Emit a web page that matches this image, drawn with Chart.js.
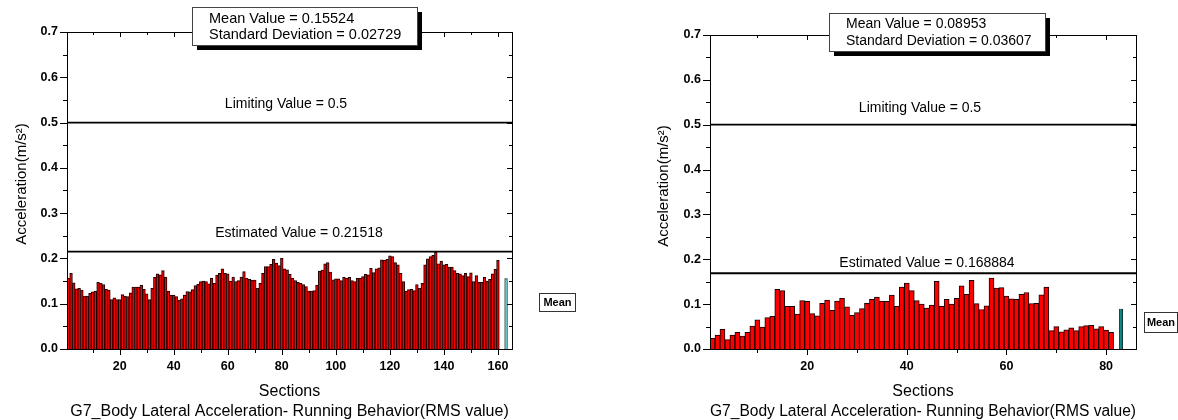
<!DOCTYPE html>
<html>
<head>
<meta charset="utf-8">
<script src="https://cdn.jsdelivr.net/npm/chart.js@4.4.0/dist/chart.umd.min.js"></script>
<style>
  html, body { margin: 0; padding: 0; background: #fff; }
  .wrap { position: absolute; top: 0; width: 589px; height: 420px; }
  #w1 { left: 0; }
  #w2 { left: 589px; }
</style>
</head>
<body>
<div class="wrap" id="w1"><canvas id="c1"></canvas></div>
<div class="wrap" id="w2"><canvas id="c2"></canvas></div>
<script>
// ---- data ----
const leftValues = [
  0.156,0.167,0.146,0.133,0.134,0.130,0.117,0.117,0.123,0.126,
  0.128,0.147,0.145,0.142,0.132,0.130,0.109,0.113,0.109,0.109,
  0.120,0.117,0.116,0.124,0.137,0.137,0.137,0.141,0.132,0.122,
  0.109,0.134,0.158,0.166,0.164,0.173,0.159,0.128,0.119,0.119,
  0.116,0.108,0.111,0.119,0.127,0.126,0.131,0.140,0.143,0.149,
  0.150,0.149,0.144,0.156,0.145,0.163,0.167,0.177,0.167,0.166,
  0.150,0.159,0.149,0.151,0.159,0.171,0.156,0.154,0.152,0.152,
  0.134,0.145,0.167,0.182,0.182,0.187,0.198,0.190,0.184,0.200,
  0.177,0.175,0.165,0.156,0.151,0.147,0.145,0.142,0.138,0.128,
  0.128,0.129,0.141,0.172,0.174,0.188,0.191,0.170,0.153,0.155,
  0.155,0.151,0.158,0.156,0.158,0.151,0.149,0.156,0.156,0.160,
  0.165,0.164,0.178,0.169,0.177,0.179,0.197,0.196,0.198,0.206,
  0.204,0.191,0.186,0.167,0.149,0.128,0.131,0.132,0.129,0.142,
  0.134,0.145,0.186,0.199,0.204,0.207,0.214,0.188,0.194,0.186,
  0.187,0.181,0.181,0.173,0.167,0.166,0.162,0.167,0.160,0.168,
  0.149,0.162,0.147,0.147,0.158,0.150,0.154,0.166,0.176,0.196
];
const rightValues = [
  0.024,0.031,0.044,0.021,0.031,0.037,0.029,0.037,0.051,0.065,
  0.049,0.070,0.073,0.133,0.130,0.095,0.095,0.078,0.108,0.106,
  0.079,0.074,0.102,0.109,0.086,0.107,0.113,0.094,0.075,0.081,
  0.090,0.102,0.111,0.116,0.107,0.106,0.120,0.095,0.138,0.147,
  0.130,0.108,0.100,0.091,0.098,0.151,0.095,0.111,0.100,0.113,
  0.141,0.122,0.153,0.101,0.088,0.096,0.158,0.136,0.137,0.118,
  0.112,0.111,0.122,0.126,0.101,0.102,0.121,0.138,0.041,0.050,
  0.038,0.043,0.047,0.041,0.050,0.052,0.053,0.045,0.050,0.042,
  0.037
];
const leftSections = leftValues.map((v, i) => i + 1);
const rightSections = rightValues.map((v, i) => i + 1);

const leftMean = 0.15524, leftStd = 0.02729, leftEstimate = 0.21518;
const rightMean = 0.08953, rightStd = 0.03607, rightEstimate = 0.168884;
const limitValue = 0.5;
const leftMeanPos = 163, rightMeanPos = 83;

const leftXTicks = [20, 40, 60, 80, 100, 120, 140, 160];
const rightXTicks = [20, 40, 60, 80];
const yTicks = [0, 0.1, 0.2, 0.3, 0.4, 0.5, 0.6, 0.7];

const FONT = "'Liberation Sans', Arial, sans-serif";
const xTitle = ['Sections', 'G7_Body Lateral Acceleration- Running Behavior(RMS value)'];
const yTitle = 'Acceleration(m/s\u00B2)';

// draws the Origin-style frame, ticks, reference lines and text boxes
const originDecor = {
  id: 'originDecor',
  afterDatasetsDraw(chart, args, o) {
    const { ctx, chartArea: a, scales: { x, y } } = chart;
    ctx.save();
    ctx.strokeStyle = '#000';
    ctx.fillStyle = '#000';

    // limiting / estimated lines
    ctx.lineWidth = 1.8;
    [o.limit, o.estimate].forEach(v => {
      const py = y.getPixelForValue(v);
      ctx.beginPath(); ctx.moveTo(a.left, py); ctx.lineTo(a.right, py); ctx.stroke();
    });

    // frame
    ctx.lineWidth = 1;
    ctx.strokeRect(Math.round(a.left) + 0.5, Math.round(a.top) + 0.5,
      Math.round(a.right - a.left), Math.round(a.bottom - a.top));

    // y ticks: outward on the left, inward on the right
    for (let k = 0; k <= 14; k++) {
      const py = Math.round(y.getPixelForValue(k * 0.05)) + 0.5;
      const major = k % 2 === 0;
      ctx.beginPath();
      ctx.moveTo(a.left - (major ? 7 : 4), py); ctx.lineTo(a.left, py);
      ctx.moveTo(a.right - (major ? 5 : 3), py); ctx.lineTo(a.right, py);
      ctx.stroke();
    }
    // x ticks: outward at the bottom, inward at the top
    for (let v = 10; v <= x.max; v += 10) {
      const px = Math.round(x.getPixelForValue(v)) + 0.5;
      const major = v % 20 === 0;
      ctx.beginPath();
      ctx.moveTo(px, a.bottom); ctx.lineTo(px, a.bottom + (major ? 6 : 4));
      ctx.moveTo(px, a.top); ctx.lineTo(px, a.top + (major ? 5 : 3));
      ctx.stroke();
    }

    // labels on the lines
    ctx.font = '14px ' + FONT;
    ctx.textAlign = 'center';
    ctx.textBaseline = 'middle';
    ctx.fillText('Limiting Value = ' + o.limit, a.left + o.limitLabel[0], y.getPixelForValue(o.limit) - o.limitLabel[1]);
    ctx.fillText('Estimated Value = ' + o.estimate, a.left + o.estLabel[0], y.getPixelForValue(o.estimate) - o.estLabel[1]);

    // y title
    ctx.save();
    ctx.font = '15px ' + FONT;
    ctx.translate(o.yTitle[0], o.yTitle[1]);
    ctx.rotate(-Math.PI / 2);
    ctx.fillText(yTitle, 0, 0);
    ctx.restore();

    // "Mean" box
    const mb = o.meanBox;
    ctx.fillStyle = '#fff';
    ctx.fillRect(mb[0], mb[1], mb[2], mb[3]);
    ctx.strokeStyle = '#333';
    ctx.strokeRect(mb[0] + 0.5, mb[1] + 0.5, mb[2], mb[3]);
    ctx.fillStyle = '#000';
    ctx.font = 'bold 11px ' + FONT;
    ctx.fillText('Mean', mb[0] + mb[2] / 2 + 0.5, mb[1] + mb[3] / 2 + 1);

    // statistics box with drop shadow
    const sb = o.statBox;
    ctx.fillStyle = '#000';
    ctx.fillRect(sb[0] + 5, sb[1] + 5, sb[2], sb[3]);
    ctx.fillStyle = '#fff';
    ctx.fillRect(sb[0], sb[1], sb[2], sb[3]);
    ctx.strokeStyle = '#444';
    ctx.strokeRect(sb[0] + 0.5, sb[1] + 0.5, sb[2], sb[3]);
    ctx.fillStyle = '#000';
    ctx.textAlign = 'left';
    ctx.font = o.statFont + 'px ' + FONT;
    ctx.fillText('Mean Value = ' + o.mean.toFixed(5), sb[0] + o.statPad, sb[1] + o.statLines[0]);
    ctx.fillText('Standard Deviation = ' + o.std.toFixed(5), sb[0] + o.statPad, sb[1] + o.statLines[1]);
    ctx.restore();
  }
};

function makeChart(id, c) {
  return new Chart(document.getElementById(id), {
    type: 'bar',
    data: {
      datasets: [
        {
          data: c.sections.map((s, i) => ({ x: s, y: c.values[i] })),
          backgroundColor: '#ff0000',
          borderColor: '#1a0000',
          borderWidth: 1,
          barPercentage: 1,
          categoryPercentage: 1,
          grouped: false
        },
        {
          data: [{ x: c.meanPos, y: c.mean }],
          backgroundColor: c.meanColor,
          borderColor: '#0a2a2a',
          borderWidth: 1,
          barPercentage: c.meanBar,
          categoryPercentage: 1,
          grouped: false
        }
      ]
    },
    options: {
      responsive: true,
      maintainAspectRatio: false,
      animation: false,
      layout: { padding: c.padding },
      plugins: {
        legend: { display: false },
        tooltip: { enabled: false },
        originDecor: c.decor
      },
      scales: {
        x: {
          type: 'linear',
          offset: false,
          min: c.xMin,
          max: c.xMax,
          grid: { display: false, drawTicks: false },
          border: { display: false },
          afterBuildTicks: s => { s.ticks = c.xTicks.map(v => ({ value: v })); },
          afterFit: s => { s.height = 71; },
          ticks: {
            color: '#000', padding: 10, maxRotation: 0, autoSkip: false,
            font: { family: FONT, size: 12.5, weight: 'bold' }
          },
          title: {
            display: true, text: xTitle, color: '#000',
            font: { family: FONT, size: 16, lineHeight: 1.25 },
            padding: { top: 0, bottom: -2 }
          }
        },
        y: {
          min: 0,
          max: 0.7,
          grid: { display: false, drawTicks: false },
          border: { display: false },
          afterBuildTicks: s => { s.ticks = yTicks.map(v => ({ value: v })); },
          afterFit: s => { s.width = 67; },
          ticks: {
            color: '#000', padding: 9,
            callback: v => v.toFixed(1),
            font: { family: FONT, size: 12.5, weight: 'bold' }
          }
        }
      }
    },
    plugins: [originDecor]
  });
}

makeChart('c1', {
  values: leftValues, sections: leftSections,
  mean: leftMean, meanPos: leftMeanPos, meanColor: '#8ff5f5', meanBar: 1,
  xMin: 0.5, xMax: 165.2, xTicks: leftXTicks,
  padding: { left: 0, right: 77, top: 32, bottom: 0 },
  decor: {
    limit: limitValue, estimate: leftEstimate, mean: leftMean, std: leftStd,
    limitLabel: [219, 18], estLabel: [232, 18],
    yTitle: [22, 184],
    meanBox: [539, 293, 36, 18],
    statBox: [192, 7, 225, 38], statFont: 14.5, statPad: 17, statLines: [12, 28]
  }
});

makeChart('c2', {
  values: rightValues, sections: rightSections,
  mean: rightMean, meanPos: rightMeanPos, meanColor: '#008080', meanBar: 0.8,
  xMin: 0.5, xMax: 86, xTicks: rightXTicks,
  padding: { left: 54, right: 42, top: 35, bottom: 0 },
  decor: {
    limit: limitValue, estimate: rightEstimate, mean: rightMean, std: rightStd,
    limitLabel: [210, 17], estLabel: [217, 10],
    yTitle: [75, 186],
    meanBox: [555, 312, 33, 20],
    statBox: [240, 13, 216, 38], statFont: 14, statPad: 17, statLines: [11, 28]
  }
});
</script>
</body>
</html>
